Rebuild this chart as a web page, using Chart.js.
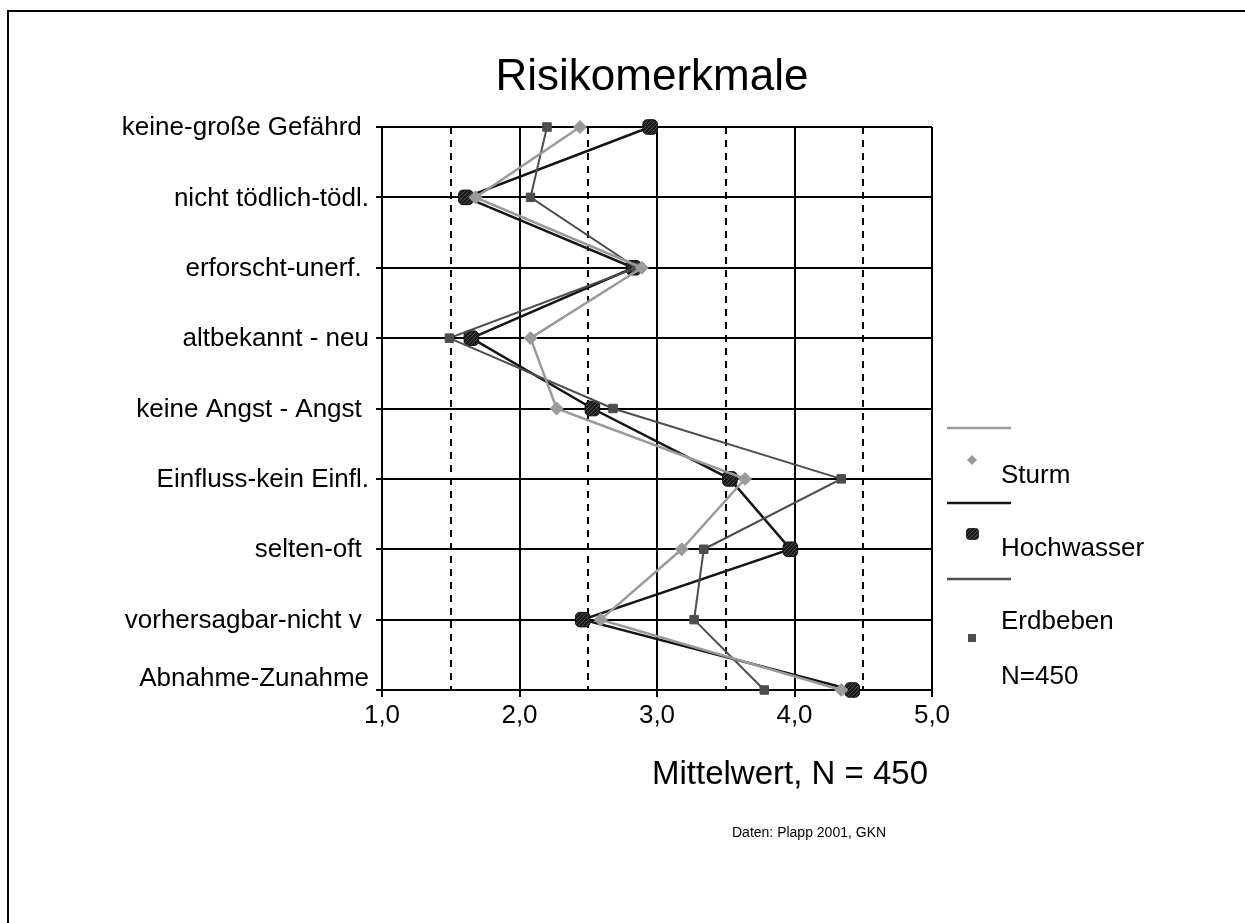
<!DOCTYPE html>
<html>
<head>
<meta charset="utf-8">
<title>Risikomerkmale</title>
<script src="https://cdn.jsdelivr.net/npm/chart.js@4/dist/chart.umd.min.js"></script>
<style>
  html, body { margin: 0; padding: 0; background: #fff; }
  #wrap { position: relative; width: 1245px; height: 923px; overflow: hidden; }
  #frame {
    position: absolute; left: 7px; top: 10px; width: 1400px; height: 1100px;
    border-left: 2px solid #000; border-top: 2px solid #000;
  }
  #chart { position: absolute; left: 0; top: 0; }
</style>
</head>
<body>
<div id="wrap">
  <div id="frame"></div>
  <canvas id="chart" width="1245" height="923"></canvas>
</div>
<script>
// Risikomerkmale: mean ratings per risk characteristic (scale 1-5)
const categories = [
  'keine-große Gefährd ',
  'nicht tödlich-tödl.',
  'erforscht-unerf. ',
  'altbekannt - neu',
  'keine Angst - Angst ',
  'Einfluss-kein Einfl.',
  'selten-oft ',
  'vorhersagbar-nicht v ',
  'Abnahme-Zunahme'
];
const sturm      = [2.44, 1.68, 2.89, 2.08, 2.27, 3.64, 3.18, 2.59, 4.34];
const hochwasser = [2.95, 1.61, 2.83, 1.65, 2.53, 3.53, 3.97, 2.46, 4.42];
const erdbeben   = [2.20, 2.08, 2.85, 1.49, 2.68, 4.34, 3.34, 3.27, 3.78];

const xMin = 1;
const xMax = 5;
const legendNote = 'N=450';

const FONT = '"Liberation Sans", Arial, sans-serif';
const GREY = '#9a9a9a';
const BLACK = '#141414';
const DARK = '#4d4d4d';

// hatched fill for the Hochwasser markers
function hatchPattern() {
  const c = document.createElement('canvas');
  c.width = 4; c.height = 4;
  const g = c.getContext('2d');
  g.fillStyle = '#1c1c1c';
  g.fillRect(0, 0, 4, 4);
  g.strokeStyle = '#4a4a4a';
  g.lineWidth = 1;
  g.beginPath();
  g.moveTo(0, 4); g.lineTo(4, 0);
  g.stroke();
  return g.createPattern(c, 'repeat');
}
const hatch = hatchPattern();

// category names left of the axis; the bottom one sits a bit higher
const categoryLabels = {
  id: 'categoryLabels',
  afterDraw(chart) {
    const ctx = chart.ctx;
    const y = chart.scales.y;
    ctx.save();
    ctx.fillStyle = '#000';
    ctx.font = '26px ' + FONT;
    ctx.textAlign = 'right';
    ctx.textBaseline = 'middle';
    categories.forEach((name, i) => {
      const lift = i === categories.length - 1 ? 11 : -1;
      ctx.fillText(name, y.right - 13, y.getPixelForTick(i) - lift);
    });
    ctx.restore();
  }
};

// title, axis caption, source line and the legend block
const decorations = {
  id: 'decorations',
  afterDraw(chart) {
    const ctx = chart.ctx;
    ctx.save();
    ctx.fillStyle = '#000';

    ctx.textAlign = 'center';
    ctx.textBaseline = 'alphabetic';
    ctx.font = '44px ' + FONT;
    ctx.fillText('Risikomerkmale', 652, 90);

    ctx.font = '33px ' + FONT;
    ctx.fillText('Mittelwert, N = 450', 790, 784);

    ctx.textAlign = 'left';
    ctx.font = '14px ' + FONT;
    ctx.fillText('Daten: Plapp 2001, GKN', 732, 837);

    // legend: line sample above, marker and name below
    const lines = [[GREY, 428], [BLACK, 503], [DARK, 579]];
    lines.forEach(([col, y]) => {
      ctx.strokeStyle = col;
      ctx.lineWidth = 2.5;
      ctx.beginPath();
      ctx.moveTo(947, y);
      ctx.lineTo(1011, y);
      ctx.stroke();
    });

    // diamond
    ctx.fillStyle = GREY;
    ctx.beginPath();
    ctx.moveTo(972, 455); ctx.lineTo(977, 460); ctx.lineTo(972, 465); ctx.lineTo(967, 460);
    ctx.closePath();
    ctx.fill();

    // rounded blob
    ctx.fillStyle = hatch;
    ctx.beginPath();
    ctx.roundRect(966, 528, 13, 12, 4);
    ctx.fill();

    // small square
    ctx.fillStyle = DARK;
    ctx.fillRect(968, 634, 8, 8);

    ctx.fillStyle = '#000';
    ctx.font = '26px ' + FONT;
    ctx.textBaseline = 'middle';
    ctx.fillText('Sturm', 1001, 476);
    ctx.fillText('Hochwasser', 1001, 549);
    ctx.fillText('Erdbeben', 1001, 622);
    ctx.fillText(legendNote, 1001, 677);
    ctx.restore();
  }
};

new Chart(document.getElementById('chart'), {
  type: 'line',
  data: {
    labels: categories,
    datasets: [
      {
        label: 'Sturm',
        data: sturm,
        borderColor: GREY,
        borderWidth: 2.5,
        pointStyle: 'rectRot',
        pointRadius: 6.5,
        pointBackgroundColor: GREY,
        pointBorderColor: GREY,
        pointBorderWidth: 1,
        clip: false,
        order: 0
      },
      {
        label: 'Hochwasser',
        data: hochwasser,
        borderColor: BLACK,
        borderWidth: 2.5,
        pointStyle: 'rectRounded',
        pointRadius: 8.5,
        pointBackgroundColor: hatch,
        pointBorderColor: '#111',
        pointBorderWidth: 1,
        clip: false,
        order: 2
      },
      {
        label: 'Erdbeben',
        data: erdbeben,
        borderColor: DARK,
        borderWidth: 2,
        pointStyle: 'rect',
        pointRadius: 6,
        pointBackgroundColor: DARK,
        pointBorderColor: DARK,
        pointBorderWidth: 1,
        clip: false,
        order: 1
      }
    ]
  },
  options: {
    indexAxis: 'y',
    responsive: false,
    animation: false,
    devicePixelRatio: 1,
    events: [],
    layout: { padding: { left: 0, top: 127, right: 313, bottom: 183 } },
    plugins: {
      legend: { display: false },
      tooltip: { enabled: false },
      title: { display: false }
    },
    scales: {
      x: {
        type: 'linear',
        position: 'bottom',
        min: xMin,
        max: xMax,
        ticks: {
          stepSize: 1,
          padding: 3,
          color: '#000',
          font: { family: FONT, size: 26 },
          maxRotation: 0,
          callback: v => v.toFixed(1).replace('.', ',')
        },
        grid: { color: '#000', lineWidth: 2, tickLength: 7, tickColor: '#000', tickWidth: 2 },
        border: { color: '#000', width: 2 },
        afterFit: s => { s.height = 50; }
      },
      // dashed half-step lines
      xHalf: {
        type: 'linear',
        position: 'top',
        min: xMin,
        max: xMax,
        ticks: { stepSize: 0.5, display: false },
        grid: {
          drawTicks: false,
          lineWidth: 2,
          color: c => (c.tick && c.tick.value % 1 !== 0) ? '#000' : 'rgba(0,0,0,0)'
        },
        border: { display: false, dash: [7, 6] },
        afterFit: s => { s.height = 0; }
      },
      y: {
        type: 'category',
        ticks: { display: false },
        grid: { color: '#000', lineWidth: 2, tickLength: 6, tickColor: '#000', tickWidth: 2 },
        border: { color: '#000', width: 2 },
        afterFit: s => { s.width = 382; }
      }
    }
  },
  plugins: [categoryLabels, decorations]
});
</script>
</body>
</html>
